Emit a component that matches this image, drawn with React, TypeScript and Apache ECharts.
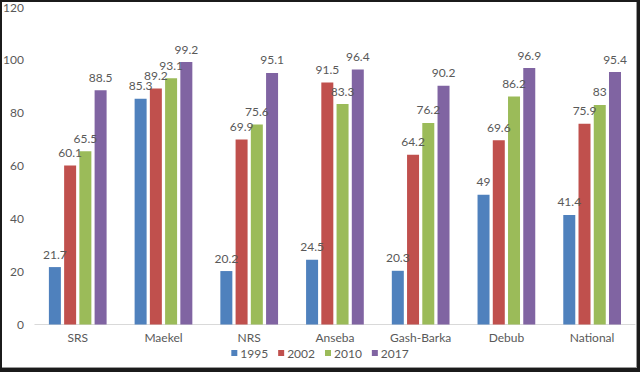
import React, { useEffect, useRef } from "react";
import * as echarts from "echarts";

const categories = ["SRS", "Maekel", "NRS", "Anseba", "Gash-Barka", "Debub", "National"];
const seriesNames = ["1995", "2002", "2010", "2017"];
const values1995 = [21.7, 85.3, 20.2, 24.5, 20.3, 49, 41.4];
const values2002 = [60.1, 89.2, 69.9, 91.5, 64.2, 69.6, 75.9];
const values2010 = [65.5, 93.1, 75.6, 83.3, 76.2, 86.2, 83];
const values2017 = [88.5, 99.2, 95.1, 96.4, 90.2, 96.9, 95.4];
const colors = ["#4F81BD", "#C0504D", "#9BBB59", "#8064A2"];

const FONT = "Lato, 'Liberation Sans', sans-serif";

export default function App() {
  const ref = useRef<HTMLDivElement>(null);
  useEffect(() => {
    if (!ref.current) return;
    const chart = echarts.init(ref.current, undefined, { renderer: "svg" });
    const all = [values1995, values2002, values2010, values2017];
    chart.setOption({
      animation: false,
      textStyle: { fontFamily: FONT },
      grid: { left: 32, right: 5, top: 7, bottom: 47.5, containLabel: false },
      legend: {
        data: seriesNames,
        left: "center",
        top: 347,
        padding: 0,
        icon: "rect",
        itemWidth: 6,
        itemHeight: 6,
        itemGap: 10,
        textStyle: { color: "#595959", fontSize: 12, fontFamily: FONT, padding: [0, 0, 0, -2], lineHeight: 12 },
      },
      xAxis: {
        type: "category",
        data: categories,
        axisLine: { lineStyle: { color: "#D9D9D9", width: 1 } },
        axisTick: { show: false },
        axisLabel: { color: "#595959", fontSize: 12, margin: 7, lineHeight: 12, fontFamily: FONT },
      },
      yAxis: {
        type: "value",
        min: 0,
        max: 120,
        interval: 20,
        splitLine: { show: false },
        axisLine: { show: false },
        axisTick: { show: false },
        axisLabel: { color: "#595959", fontSize: 12, margin: 11, fontFamily: FONT },
      },
      series: seriesNames.map((name, i) => ({
        name,
        type: "bar",
        data: all[i],
        barWidth: 12,
        barGap: "27%",
        itemStyle: { color: colors[i] },
        label: {
          show: true,
          position: "top",
          distance: 7,
          color: "#595959",
          fontSize: 12,
          fontFamily: FONT,
        },
      })),
    });
    return () => chart.dispose();
  }, []);
  return (
    <div style={{ position: "fixed", left: 0, top: 0, width: 640, height: 372, background: "#1b1b1b" }}>
      <div
        style={{
          position: "absolute",
          left: 2,
          top: 2,
          width: 635,
          height: 366,
          background: "#fff",
          borderRight: "1px solid #9a9a9a",
          borderBottom: "1px solid #9a9a9a",
          boxSizing: "border-box",
        }}
      />
      <div ref={ref} style={{ position: "absolute", left: 0, top: 0, width: 640, height: 372 }} />
    </div>
  );
}
